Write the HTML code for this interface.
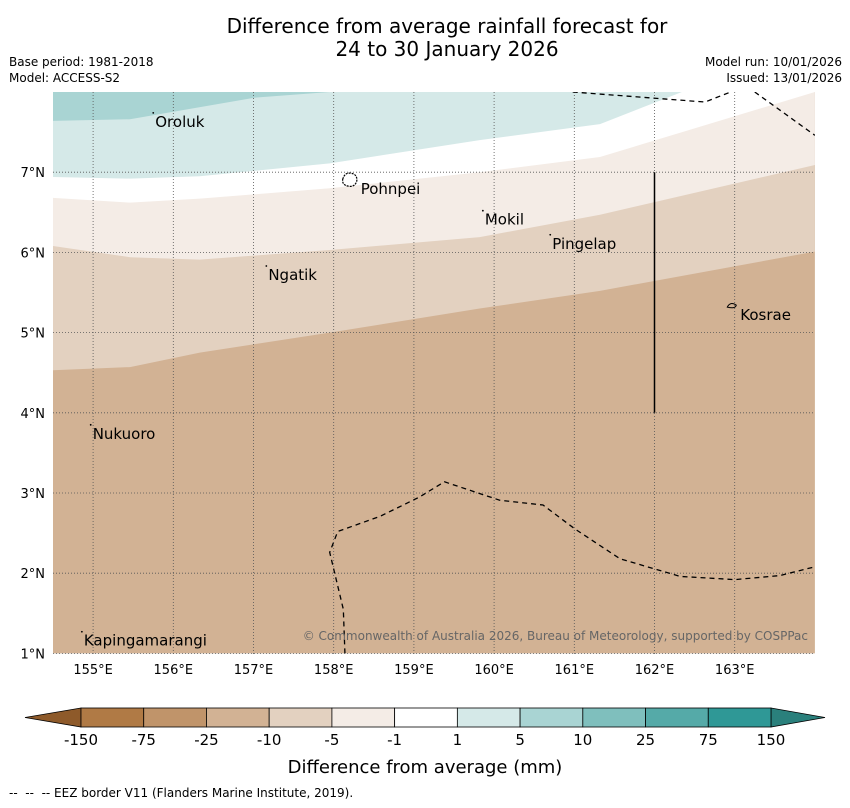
<!DOCTYPE html>
<html><head><meta charset="utf-8"><style>
body{margin:0;background:#fff;font-family:"DejaVu Sans","Liberation Sans",sans-serif;}
svg text{font-family:"DejaVu Sans","Liberation Sans",sans-serif;white-space:pre;}
</style></head><body>
<svg id="c" width="850" height="804" xmlns="http://www.w3.org/2000/svg">
<text x="447" y="33" font-size="20" text-anchor="middle">Difference from average rainfall forecast for</text>
<text x="447" y="56" font-size="20" text-anchor="middle">24 to 30 January 2026</text>
<text x="9" y="66" font-size="12">Base period: 1981-2018</text>
<text x="9" y="82" font-size="12">Model: ACCESS-S2</text>
<text x="842" y="66" font-size="12" text-anchor="end">Model run: 10/01/2026</text>
<text x="842" y="82" font-size="12" text-anchor="end">Issued: 13/01/2026</text>
<defs><clipPath id="mc"><rect x="53" y="92" width="762" height="562"/></clipPath></defs>
<g id="map" clip-path="url(#mc)"></g>
<g id="axes"></g>
<g id="cbar"></g>
<text x="425" y="773" font-size="18" text-anchor="middle">Difference from average (mm)</text>
<text x="9" y="797" font-size="12">--  --  -- EEZ border V11 (Flanders Marine Institute, 2019).</text>
</svg>
<script>
// data
const lonTicks=[155,156,157,158,159,160,161,162,163];
const latTicks=[1,2,3,4,5,6,7];
const bandColors=["#d2b294","#e3d1c0","#f4ece6","#ffffff","#d5e9e8","#a9d4d3"];
const boundaryLons=[154.5,155.46,156.33,157.95,159.82,161.32,164.0];
const b1Lats=[4.53,4.57,4.75,5.0,5.3,5.52,6.01];
const b2Lats=[6.08,5.94,5.91,6.03,6.19,6.47,7.09];
const b3Lats=[6.68,6.62,6.67,6.80,7.0,7.19,8.0];
const b4Lats=[6.94,6.92,6.95,7.11,7.40,7.60,8.65];
const b5Lons=[154.5,155.46,157.02,157.95,164.0];
const b5Lats=[7.64,7.66,7.93,8.0,8.5];
const islands=["Oroluk","Pohnpei","Mokil","Pingelap","Ngatik","Kosrae","Nukuoro","Kapingamarangi"];
const islandLon=[155.75,158.2,159.86,160.7,157.16,162.97,154.97,154.86];
const islandLat=[7.74,6.90,6.52,6.22,5.83,5.33,3.85,1.27];
const eezBottomLon=[158.14,158.12,157.95,158.05,158.58,159.07,159.38,160.07,160.61,161.01,161.57,162.32,163.0,163.56,164.0];
const eezBottomLat=[1.0,1.55,2.26,2.52,2.71,2.95,3.14,2.91,2.85,2.55,2.18,1.96,1.92,1.97,2.08];
const eezTopLon=[160.98,162.63,163.0];
const eezTopLat=[8.0,7.875,8.02];
const eezTop2Lon=[163.25,164.0];
const eezTop2Lat=[8.0,7.46];
const cbLabels=["-150","-75","-25","-10","-5","-1","1","5","10","25","75","150"];
const cbColors=["#b07a45","#c0946a","#d2b294","#e3d1c0","#f4ece6","#ffffff","#d5e9e8","#a9d4d3","#7fbfbd","#55aaa8","#2f9896"];

const NS="http://www.w3.org/2000/svg";
const X=lon=>53+(lon-154.5)*80.2;
const Y=lat=>92+(8-lat)*80.2;
function mk(tag,attrs,parent){const e=document.createElementNS(NS,tag);for(const k in attrs)e.setAttribute(k,attrs[k]);parent.appendChild(e);return e;}
const map=document.getElementById('map'),axes=document.getElementById('axes'),cb=document.getElementById('cbar');
const bounds=[null,b1Lats,b2Lats,b3Lats,b4Lats,b5Lats];
const bandNames=["band-below-25","band-25-10","band-10-5","band-5-1","band-1-5","band-5-10"];
for(let i=0;i<bandColors.length;i++){
  let d;
  const top=bounds[i];
  const lons=i===5?b5Lons:boundaryLons;
  if(i===0){d=`M${X(154.5)},${Y(1)} L${X(164)},${Y(1)} L${X(164)},${Y(9)} L${X(154.5)},${Y(9)}Z`;}
  else{
    d="M"+lons.map((l,j)=>X(l)+","+Y(top[j])).join(" L")+` L${X(164)},${Y(9.5)} L${X(154.5)},${Y(9.5)}Z`;
  }
  const p=mk('path',{d,fill:bandColors[i]},map);
  
  
}
lonTicks.forEach(l=>{const g=mk('line',{x1:X(l),x2:X(l),y1:92,y2:654,stroke:"#555","stroke-width":0.8,"stroke-dasharray":"1,2"},map);

const t=mk('text',{x:X(l),y:674,"font-size":13,"text-anchor":"middle"},axes);t.textContent=l+"°E";
});
latTicks.forEach(l=>{const g=mk('line',{x1:53,x2:815,y1:Y(l),y2:Y(l),stroke:"#555","stroke-width":0.8,"stroke-dasharray":"1,2"},map);

const t=mk('text',{x:45,y:Y(l)+5,"font-size":13,"text-anchor":"end"},axes);t.textContent=l+"°N";
});
function pl(lons,lats,name){const p=mk('polyline',{points:lons.map((l,j)=>X(l)+","+Y(lats[j])).join(" "),fill:"none",stroke:"#000","stroke-width":1.3,"stroke-dasharray":"5,4"},map);
}
pl(eezBottomLon,eezBottomLat,'eez-border-south');
pl(eezTopLon,eezTopLat,'eez-border-north');
pl(eezTop2Lon,eezTop2Lat,'eez-border-northeast');
const vl=mk('line',{x1:X(162),x2:X(162),y1:Y(7),y2:Y(4),stroke:"#000","stroke-width":1.5},map);

islands.forEach((n,i)=>{const x=X(islandLon[i]),y=Y(islandLat[i]);
let dx=2;
if(n==="Pohnpei"){dx=11;
 const po=mk('path',{d:`M${x-7},${y-1} q2,-7 8,-6 q7,1 6,8 q-2,6 -8,5 q-7,-1 -6,-7z`,fill:"none",stroke:"#000","stroke-width":1.2,"stroke-dasharray":"2,1"},map);
 }
else if(n==="Kosrae"){dx=8;
 const ko=mk('path',{d:`M${x-5},${y+1} q3,-6 9,-2 q-1,4 -9,2z`,fill:"none",stroke:"#000","stroke-width":1},map);
 }
else{const d=mk('circle',{cx:x,cy:y,r:0.9,fill:"#000"},map);
 }
const t=mk('text',{x:x+dx,y:y+14,"font-size":15},map);t.textContent=n;
});
const cr=mk('text',{x:808,y:640,"font-size":12,"text-anchor":"end",fill:"#666"},map);
cr.textContent="© Commonwealth of Australia 2026, Bureau of Meteorology, supported by COSPPac";

const cx0=81,cw=(771-81)/cbColors.length,cy=708,ch=19;
const lt=mk('polygon',{points:`${cx0},${cy} 25,${cy+ch/2} ${cx0},${cy+ch}`,fill:"#8e5a2a",stroke:"#000","stroke-width":0.8},cb);

const rt=mk('polygon',{points:`771,${cy} 825,${cy+ch/2} 771,${cy+ch}`,fill:"#2a807c",stroke:"#000","stroke-width":0.8},cb);

cbColors.forEach((c,i)=>{const r=mk('rect',{x:cx0+i*cw,y:cy,width:cw,height:ch,fill:c,stroke:"#000","stroke-width":0.8},cb);
});
cbLabels.forEach((s,i)=>{const t=mk('text',{x:cx0+i*cw,y:745,"font-size":15,"text-anchor":"middle"},cb);t.textContent=s;
});
</script>
</body></html>
